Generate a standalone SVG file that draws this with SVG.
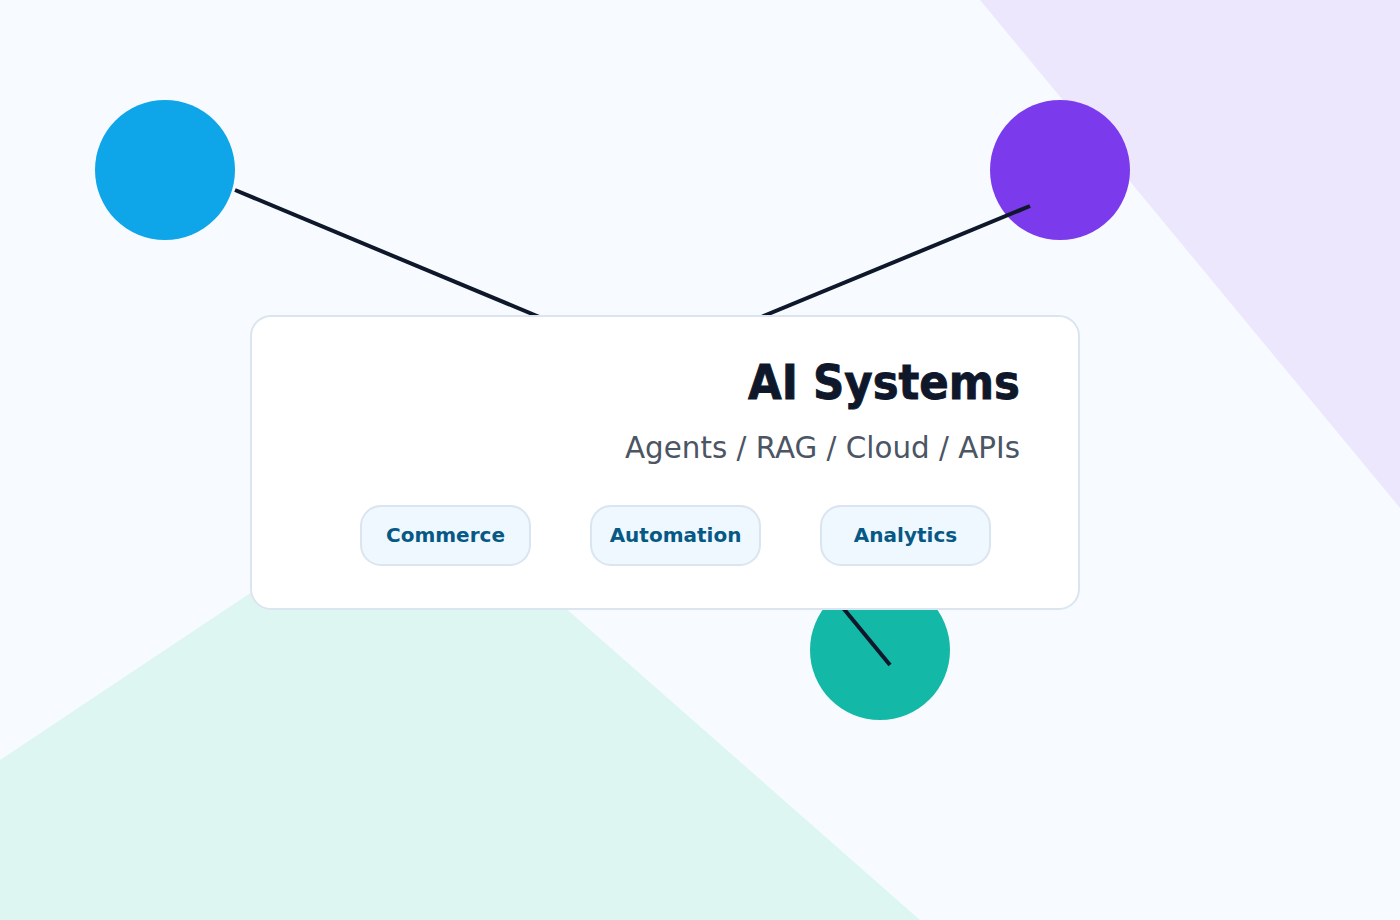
<svg xmlns="http://www.w3.org/2000/svg" width="1400" height="920" viewBox="0 0 1400 920">
  <style>
    .conn { stroke: #0f172a; stroke-width: 4; fill: none; }
    .card { fill: #ffffff; stroke: #dbe5f0; stroke-width: 2; }
    .chip { fill: #eff8ff; stroke: #dbe5f0; stroke-width: 2; }
    .chipText { font-family: "DejaVu Sans", sans-serif; font-weight: bold; font-size: 20px; fill: #075985; text-anchor: middle; }
    .title { font-family: "DejaVu Sans", sans-serif; font-weight: bold; font-size: 48px; fill: #0f172a; stroke: #0f172a; stroke-width: 0.9; text-anchor: end; }
    .sub { font-family: "DejaVu Sans", sans-serif; font-size: 30px; fill: #4b5563; text-anchor: end; }
  </style>
  <rect x="0" y="0" width="1400" height="920" fill="#f7fbff"/>
  <polygon points="980,0 1400,0 1400,508" fill="#ede7fe"/>
  <polygon points="0,760 420,480 920,920 0,920" fill="#def6f1"/>

  <g id="node-blue"><circle cx="165" cy="170" r="70" fill="#0ea5e9"/></g>
  <g id="node-purple"><circle cx="1060" cy="170" r="70" fill="#7c3aed"/></g>
  <g id="node-teal"><circle cx="880" cy="650" r="70" fill="#14b8a6"/></g>

  <g id="connectors">
    <line class="conn" x1="235" y1="190" x2="580" y2="334"/>
    <line class="conn" x1="1030" y1="206" x2="720" y2="334"/>
    <line class="conn" x1="890" y1="665" x2="820" y2="580"/>
  </g>

  <g id="card">
    <rect class="card" x="251" y="316" width="828" height="293" rx="20"/>
    <text class="title" x="1020" y="399" textLength="272" lengthAdjust="spacingAndGlyphs">AI Systems</text>
    <text class="sub" x="1020" y="458" textLength="395" lengthAdjust="spacingAndGlyphs">Agents / RAG / Cloud / APIs</text>
  </g>

  <g id="chip-commerce">
    <rect class="chip" x="361" y="506" width="169" height="59" rx="20"/>
    <text class="chipText" x="445.5" y="542">Commerce</text>
  </g>
  <g id="chip-automation">
    <rect class="chip" x="591" y="506" width="169" height="59" rx="20"/>
    <text class="chipText" x="675.5" y="542">Automation</text>
  </g>
  <g id="chip-analytics">
    <rect class="chip" x="821" y="506" width="169" height="59" rx="20"/>
    <text class="chipText" x="905.5" y="542">Analytics</text>
  </g>
</svg>
